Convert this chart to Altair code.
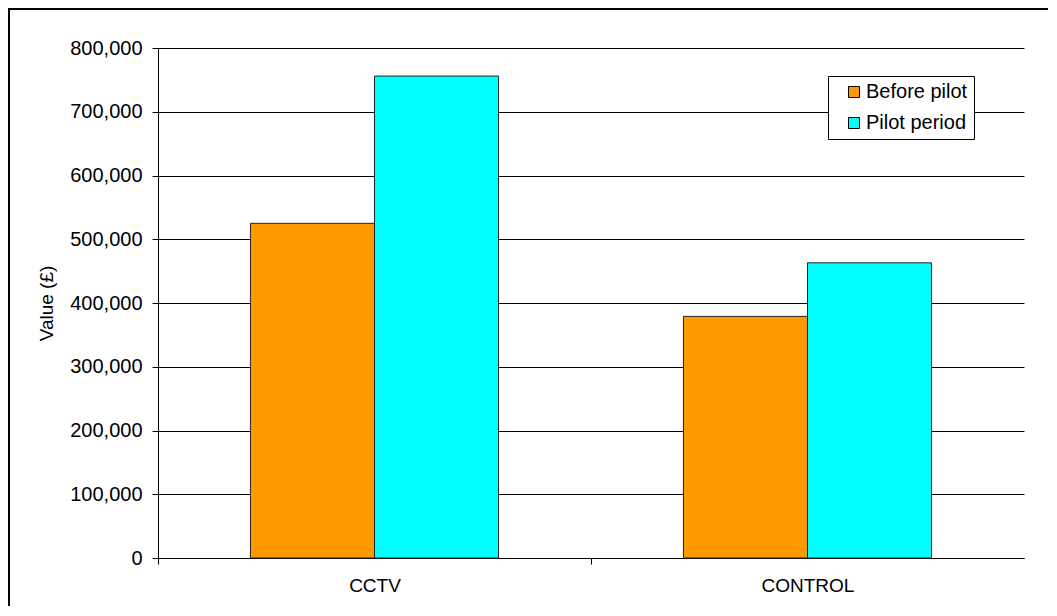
import altair as alt
import pandas as pd

categories = ["CCTV", "CONTROL"]
series = ["Before pilot", "Pilot period"]
before_pilot = [525000, 379000]
pilot_period = [756000, 463000]
colors = ["#FF9900", "#00FFFF"]

rows = []
for i, c in enumerate(categories):
    rows.append({"Group": c, "Series": series[0], "Value": before_pilot[i]})
    rows.append({"Group": c, "Series": series[1], "Value": pilot_period[i]})
df = pd.DataFrame(rows)

FONT = "Liberation Sans"

bars = alt.Chart(df).mark_bar(stroke="#222222", strokeWidth=1).encode(
    x=alt.X(
        "Group:N",
        sort=categories,
        title=None,
        scale=alt.Scale(paddingInner=0.427, paddingOuter=0.2135),
        axis=alt.Axis(
            labelAngle=0,
            bandPosition=0,
            tickOffset=-92.5,
            labelOffset=92.5,
            tickSize=6,
            tickColor="black",
            domainColor="black",
            labelColor="black",
            labelFontSize=19,
            labelFont=FONT,
            labelPadding=12,
            grid=False,
        ),
    ),
    xOffset=alt.XOffset("Series:N", sort=series, scale=alt.Scale(paddingInner=0, paddingOuter=0)),
    y=alt.Y(
        "Value:Q",
        title="Value (£)",
        scale=alt.Scale(domain=[0, 800000], nice=False),
        axis=alt.Axis(
            values=[0, 100000, 200000, 300000, 400000, 500000, 600000, 700000, 800000],
            format=",d",
            tickSize=6,
            tickColor="black",
            domainColor="black",
            grid=True,
            gridColor="black",
            gridOpacity=1,
            labelColor="black",
            labelFontSize=20,
            labelFont=FONT,
            labelPadding=10,
            titleFont=FONT,
            titleFontSize=19,
            titleFontWeight="normal",
            titleColor="black",
            titlePadding=13,
        ),
    ),
    color=alt.Color(
        "Series:N",
        sort=series,
        scale=alt.Scale(domain=series, range=colors),
        legend=alt.Legend(
            title=None,
            orient="none",
            legendX=670,
            legendY=28,
            fillColor="white",
            strokeColor="black",
            padding=6,
            symbolType="square",
            symbolSize=121,
            symbolStrokeColor="black",
            symbolStrokeWidth=1,
            symbolOffset=10,
            labelFontSize=20,
            labelFont=FONT,
            labelColor="black",
            labelOffset=2,
            rowPadding=11,
        ),
    ),
)

frame_data = alt.Data(values=[{"k": 1}])
top_border = alt.Chart(frame_data).mark_rule(color="black", strokeWidth=2).encode(
    x=alt.value(-150), x2=alt.value(1100), y=alt.value(-39)
)
left_border = alt.Chart(frame_data).mark_rule(color="black", strokeWidth=2).encode(
    x=alt.value(-149), y=alt.value(-40), y2=alt.value(700)
)

chart = alt.layer(bars, top_border, left_border).properties(
    width=866,
    height=510,
    autosize=alt.AutoSizeParams(type="none"),
    padding={"left": 150, "top": 40, "right": 24, "bottom": 48},
    background="white",
).configure_view(stroke=None)

chart.save("out.html", embed_options={"renderer": "svg", "actions": False})
